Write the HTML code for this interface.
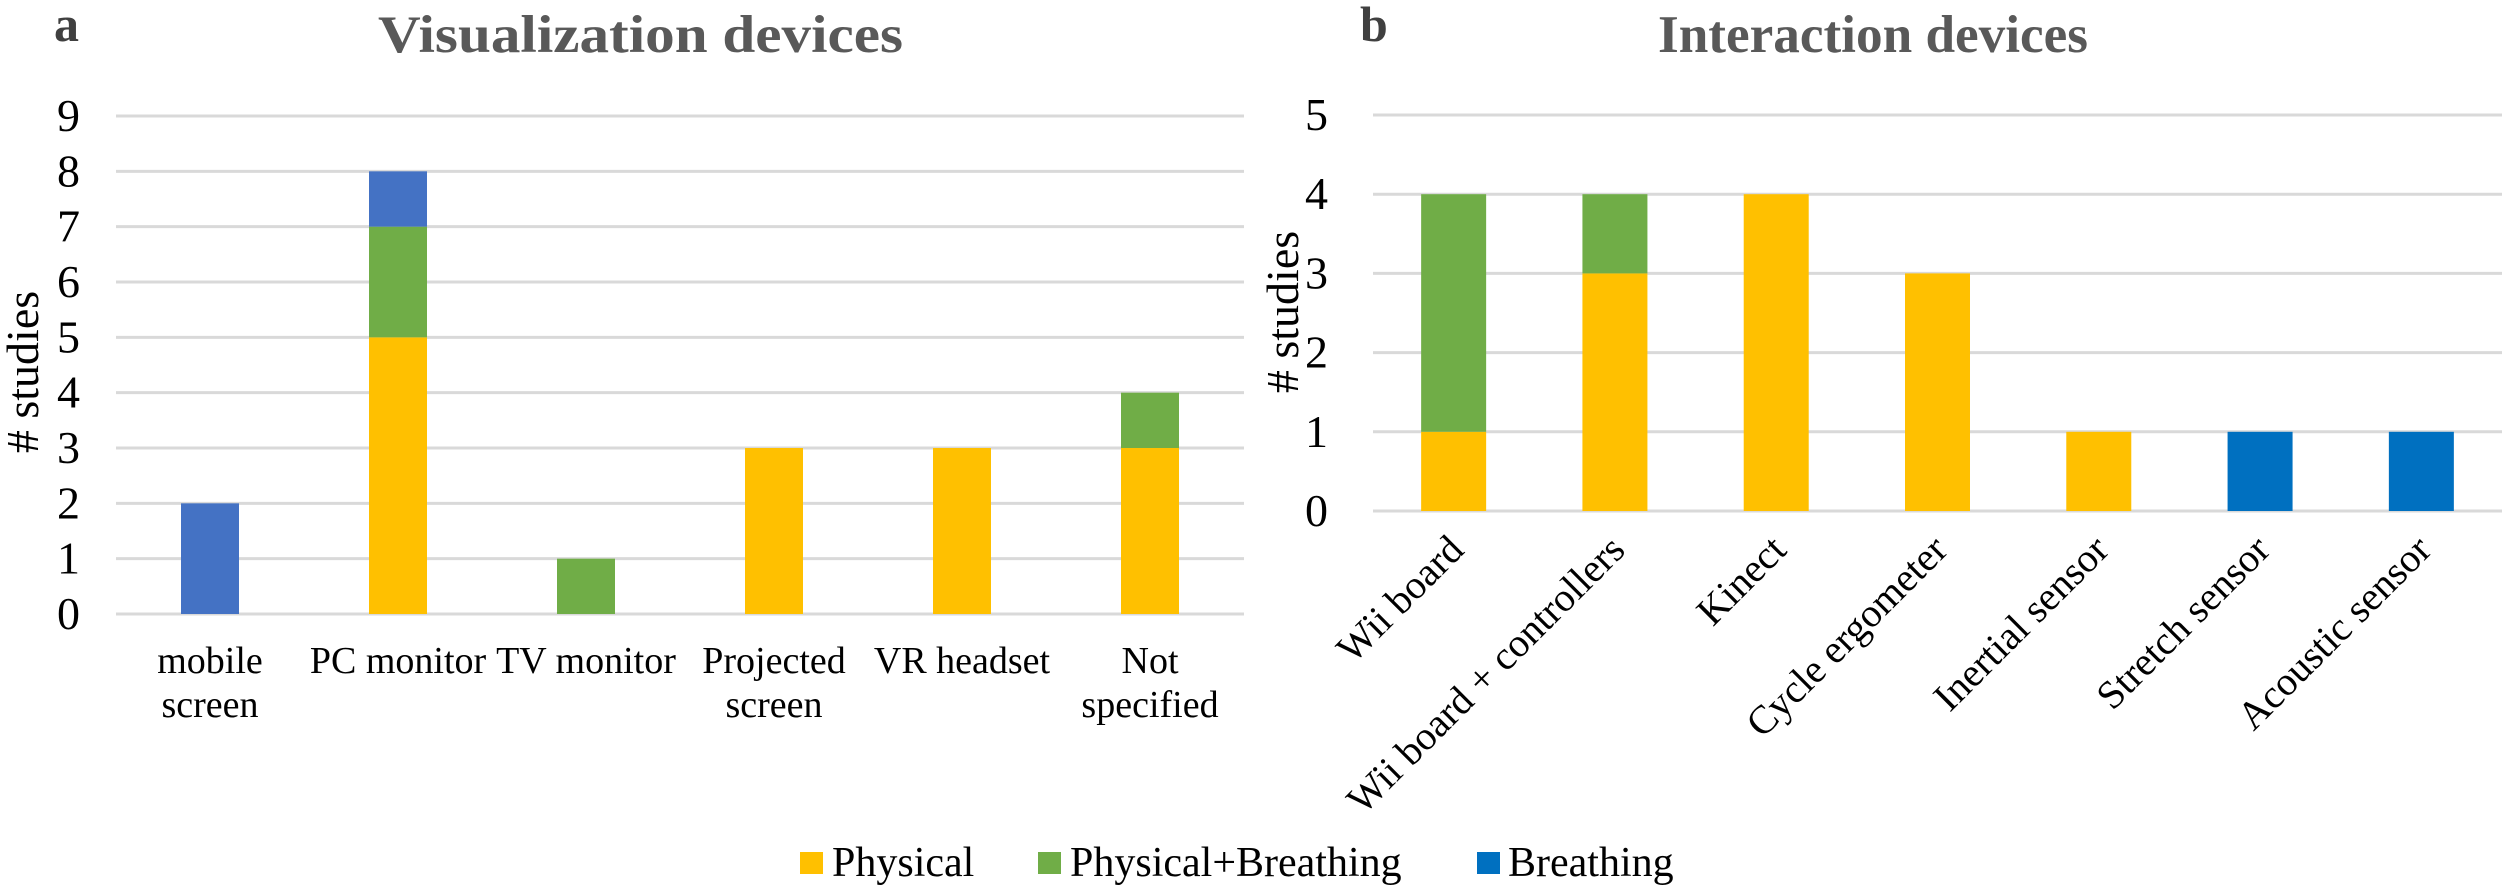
<!DOCTYPE html>
<html><head><meta charset="utf-8"><style>
html,body{margin:0;padding:0;background:#fff;width:2508px;height:892px;overflow:hidden}
svg, svg text{font-family:"Liberation Serif","Times New Roman",serif !important}
</style></head><body>
<svg id="c" width="2508" height="892" xmlns="http://www.w3.org/2000/svg" font-family="Liberation Serif, serif">
<text x="54" y="41" font-size="50" font-weight="bold" fill="#404040">a</text>
<text x="1360" y="41" font-size="50" font-weight="bold" fill="#404040">b</text>
<text x="378" y="52" font-size="53" font-weight="bold" fill="#595959" textLength="525" lengthAdjust="spacingAndGlyphs">Visualization devices</text>
<text x="1658" y="52" font-size="53" font-weight="bold" fill="#595959" textLength="430" lengthAdjust="spacingAndGlyphs">Interaction devices</text>
<text transform="translate(38,372) rotate(-90)" text-anchor="middle" font-size="46">#  studies</text>
<text transform="translate(1298,312) rotate(-90)" text-anchor="middle" font-size="46">#  studies</text>
<g id="ga"></g>
<g id="gb"></g>
<g>
<rect x="800" y="852" width="23" height="22" fill="#FFC000"/>
<text x="832" y="876" font-size="42">Physical</text>
<rect x="1038" y="852" width="23" height="22" fill="#70AD47"/>
<text x="1070" y="876" font-size="42">Physical+Breathing</text>
<rect x="1477" y="852" width="23" height="22" fill="#0070C0"/>
<text x="1508" y="876" font-size="42">Breathing</text>
</g>
</svg>
<script>
const catsA = [["mobile","screen"],["PC monitor"],["TV monitor"],["Projected","screen"],["VR headset"],["Not","specified"]];
const physA = [0,5,0,3,3,3];
const pbA = [0,2,1,0,0,1];
const brA = [2,1,0,0,0,0];
const ticksA = [0,1,2,3,4,5,6,7,8,9];
const catsB = ["Wii board","Wii board + controllers","Kinect","Cycle ergometer","Inertial sensor","Stretch sensor","Acoustic sensor"];
const physB = [1,3,4,3,1,0,0];
const pbB = [3,1,0,0,0,0,0];
const brB = [0,0,0,0,0,1,1];
const ticksB = [0,1,2,3,4,5];
const NS="http://www.w3.org/2000/svg";
function mk(p,t,a){const e=document.createElementNS(NS,t);for(const k in a)e.setAttribute(k,a[k]);p.appendChild(e);return e;}
function chart(g,cfg){
  const y=v=>cfg.y0-(cfg.y0-cfg.yTop)*v/cfg.max;
  const cw=(cfg.x1-cfg.x0)/cfg.n;
  const x=i=>cfg.x0+cw*(i+0.5);
  cfg.ticks.forEach(t=>{
    const l=mk(g,'line',{x1:cfg.x0,x2:cfg.x1,y1:y(t),y2:y(t),stroke:'#d9d9d9','stroke-width':3});
    
    
    const tx=mk(g,'text',{x:cfg.tickX,y:y(t)+15,'text-anchor':'end','font-size':46,'font-family':'Liberation Serif, serif'});
    tx.textContent=t;
    
    
  });
  cfg.series.forEach(s=>{
    s.vals.forEach((v,i)=>{
      if(!v)return;
      let base=0;cfg.series.slice(0,cfg.series.indexOf(s)).forEach(p=>base+=p.vals[i]);
      const r=mk(g,'rect',{x:x(i)-cfg.bw/2,y:y(base+v),width:cfg.bw,height:y(base)-y(base+v),fill:s.color});
      
      
    });
  });
  cfg.labels(g,x);
}
chart(document.getElementById('ga'),{y0:614,yTop:116,max:9,x0:116,x1:1244,n:6,bw:58,tickX:80,ticks:ticksA,
  series:[{name:'physical',vals:physA,color:'#FFC000'},{name:'physical-breathing',vals:pbA,color:'#70AD47'},{name:'breathing',vals:brA,color:'#4472C4'}],
  labels:(g,x)=>catsA.forEach((c,i)=>c.forEach((ln,j)=>{
    const t=mk(g,'text',{x:x(i),y:673+j*44,'text-anchor':'middle','font-size':38,'font-family':'Liberation Serif, serif'});
    t.textContent=ln;
    
    
  }))});
chart(document.getElementById('gb'),{y0:511,yTop:115,max:5,x0:1373,x1:2502,n:7,bw:65,tickX:1328,ticks:ticksB,
  series:[{name:'physical',vals:physB,color:'#FFC000'},{name:'physical-breathing',vals:pbB,color:'#70AD47'},{name:'breathing',vals:brB,color:'#0070C0'}],
  labels:(g,x)=>catsB.forEach((c,i)=>{
    const t=mk(g,'text',{transform:'translate('+(x(i)+12)+',552) rotate(-45)','text-anchor':'end','font-size':40,'font-family':'Liberation Serif, serif'});
    t.textContent=c;
    
    
  })});
</script>
</body></html>
